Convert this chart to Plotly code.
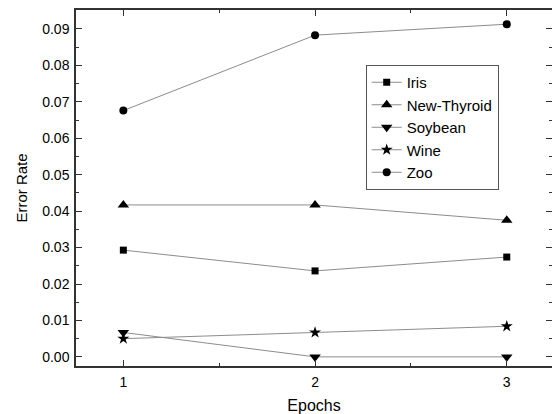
import plotly.graph_objects as go

epochs = [1, 2, 3]
iris = [0.0293, 0.0236, 0.0274]
new_thyroid = [0.0417, 0.0417, 0.0375]
soybean = [0.0067, 0.0, 0.0]
wine = [0.0050, 0.0067, 0.0084]
zoo = [0.0676, 0.0883, 0.0913]
y_ticks = [0.00, 0.01, 0.02, 0.03, 0.04, 0.05, 0.06, 0.07, 0.08, 0.09]

series = [
    ("Iris", iris, "square", 7),
    ("New-Thyroid", new_thyroid, "triangle-up", 10),
    ("Soybean", soybean, "triangle-down", 10),
    ("Wine", wine, "star", 9),
    ("Zoo", zoo, "circle", 8),
]

fig = go.Figure()
for name, vals, sym, sz in series:
    fig.add_trace(go.Scatter(
        x=epochs, y=vals, name=name, mode="lines+markers",
        line=dict(color="#8c8c8c", width=1),
        marker=dict(symbol=sym, size=sz, color="black", line=dict(width=0)),
    ))

W, H = 552, 414
ml, mr, mt, mb = 76, 0, 10, 48
Y_RANGE = [-0.0025, 0.0952]

FONT = "Liberation Sans, Arial"
AX = "#333333"
axis_common = dict(
    showline=True, linecolor=AX, linewidth=1.5,
    ticks="inside", ticklen=6, tickwidth=1, tickcolor=AX,
    showgrid=False, zeroline=False, automargin=False,
    tickfont=dict(family=FONT, size=14, color="black"),
)

fig.update_xaxes(
    range=[0.753, 3.236], tickvals=epochs, ticktext=[str(e) for e in epochs],
    mirror="ticks", ticklabelstandoff=2,
    minor=dict(ticks="inside", dtick=0.5, tick0=0.5, ticklen=3.5, tickcolor=AX, showgrid=False),
    title=dict(text="Epochs", font=dict(family=FONT, size=16, color="black"), standoff=16),
    **axis_common,
)
fig.update_yaxes(
    range=Y_RANGE, tickvals=y_ticks, ticktext=["%.2f" % v for v in y_ticks],
    mirror=False, ticklabelstandoff=2,
    minor=dict(ticks="inside", dtick=0.005, tick0=0.005, ticklen=3.5, tickcolor=AX, showgrid=False),
    title=dict(text="Error Rate", font=dict(family=FONT, size=15, color="black"), standoff=11),
    **axis_common,
)

pw = W - ml - mr
ph = H - mt - mb
fig.update_layout(
    width=W, height=H,
    margin=dict(l=ml, r=mr, t=mt, b=mb),
    plot_bgcolor="white", paper_bgcolor="white",
    yaxis2=dict(
        overlaying="y", side="right", range=Y_RANGE, tickvals=y_ticks,
        showticklabels=False, showline=False, showgrid=False, zeroline=False,
        ticks="inside", ticklen=6, tickwidth=1, tickcolor=AX,
        minor=dict(ticks="inside", dtick=0.005, tick0=0.005, ticklen=3.5, tickcolor=AX, showgrid=False),
    ),
    legend=dict(
        x=(365.7 - ml) / pw, y=1 - (65 - mt) / ph, xanchor="left", yanchor="top",
        bordercolor="#555555", borderwidth=1, bgcolor="white",
        font=dict(family=FONT, size=15, color="black"),
        tracegroupgap=0, itemwidth=30,
    ),
)
# invisible helper so the right-hand tick axis is drawn
fig.add_trace(go.Scatter(x=[epochs[0]], y=[y_ticks[0]], yaxis="y2", mode="markers",
                         marker=dict(opacity=0), showlegend=False, hoverinfo="skip"))

fig.write_html(
    "out.html",
    config={"displayModeBar": False},
    post_script="document.body.style.margin='0';document.body.style.overflow='hidden';",
)
